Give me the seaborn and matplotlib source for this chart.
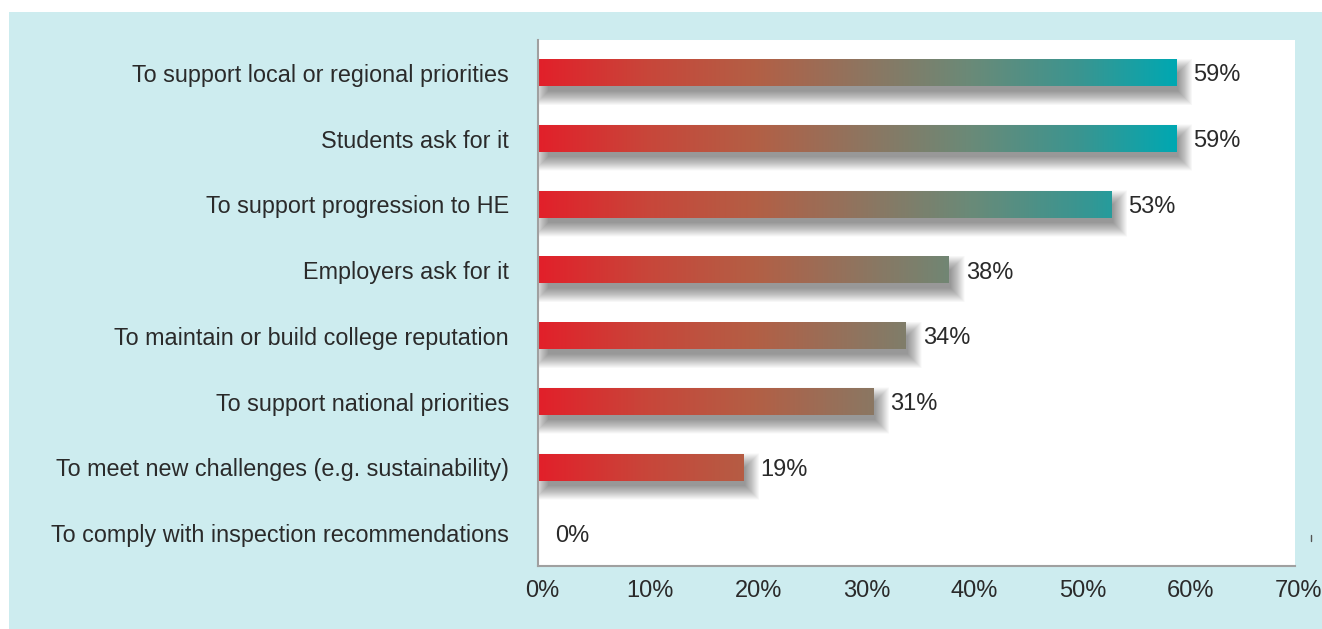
import numpy as np
import pandas as pd
import matplotlib
matplotlib.use("Agg")
import matplotlib.pyplot as plt
import matplotlib.transforms as mtransforms
import seaborn as sns
from matplotlib.colors import LinearSegmentedColormap, Normalize
from matplotlib.patches import Rectangle
from matplotlib.lines import Line2D

categories = [
    "To support local or regional priorities",
    "Students ask for it",
    "To support progression to HE",
    "Employers ask for it",
    "To maintain or build college reputation",
    "To support national priorities",
    "To meet new challenges (e.g. sustainability)",
    "To comply with inspection recommendations",
]
values = [59, 59, 53, 38, 34, 31, 19, 0]
tick_values = [0, 10, 20, 30, 40, 50, 60, 70]
tick_labels = ["0%", "10%", "20%", "30%", "40%", "50%", "60%", "70%"]

df = pd.DataFrame({"category": categories, "value": values})

sns.set_style("white")
plt.rcParams["font.family"] = ["Liberation Sans", "DejaVu Sans"]

W, H = 1322, 629
fig = plt.figure(figsize=(W / 100, H / 100), dpi=100)
fig.patch.set_facecolor("white")
fig.patches.append(Rectangle((9 / W, 0), 1, (H - 12) / H, transform=fig.transFigure,
                             facecolor="#cdecef", edgecolor="none", zorder=-10))

left, right, top, bottom = 538, 1295, 40, 566
ax = fig.add_axes([left / W, 1 - bottom / H, (right - left) / W, (bottom - top) / H])
ax.set_facecolor("white")

sns.barplot(data=df, x="value", y="category", orient="h", width=0.4, ax=ax,
            color="#cccccc", saturation=1)

cmap = LinearSegmentedColormap.from_list("grad", [
    (0.0, "#e2202a"), (10 / 59, "#c8463a"), (20 / 59, "#b35f45"),
    (30 / 59, "#8e7560"), (40 / 59, "#6a8a78"), (50 / 59, "#3b9590"),
    (1.0, "#00a8b2")])
norm = Normalize(0, 59)

xlim = (0, 70)
ylim = (len(categories) - 0.5, -0.5)
px_x = (xlim[1] - xlim[0]) / (right - left)
px_y = (len(categories)) / (bottom - top)

for p in ax.patches:
    x0, y0 = p.get_x(), p.get_y()
    w, h = p.get_width(), p.get_height()
    if w <= 0:
        p.set_visible(False)
        continue
    # soft drop shadow
    dx, dy = 6 * px_x, 9 * px_y
    for s in np.linspace(-8, 20, 29):
        ax.add_patch(Rectangle((x0 + dx - s * px_x * 0.5, y0 + dy - s * px_y * 0.5),
                               w + s * px_x, h + s * px_y,
                               facecolor="black", edgecolor="none", alpha=0.016, zorder=1))
    p.set_facecolor("none")
    p.set_edgecolor("none")
    grad = np.linspace(0, w, 256).reshape(1, -1)
    ax.imshow(grad, cmap=cmap, norm=norm, aspect="auto",
              extent=[x0, x0 + w, y0 + h, y0], zorder=2, interpolation="bilinear")

for i, v in enumerate(values):
    ax.annotate(f"{v}%", (v, i), xytext=(17 * 0.72, 0), textcoords="offset points",
                va="center_baseline", ha="left", fontsize=17, color="#2a2a2a", zorder=5)

ax.set_xlim(*xlim)
ax.set_ylim(*ylim)
ax.set_xticks(tick_values)
ax.set_xticklabels(tick_labels)
ax.set_xlabel("")
ax.set_ylabel("")
ax.tick_params(axis="y", length=0, pad=21, labelsize=16.8, labelcolor="#2a2a2a")
ax.tick_params(axis="x", length=0, pad=10, labelsize=17, labelcolor="#2a2a2a")
shift = mtransforms.ScaledTranslation(4 / 100, 0, fig.dpi_scale_trans)
for lab in ax.get_xticklabels():
    lab.set_transform(lab.get_transform() + shift)
for side in ["top", "right"]:
    ax.spines[side].set_visible(False)
for side in ["left", "bottom"]:
    ax.spines[side].set_color("#a0a0a0")
    ax.spines[side].set_linewidth(1.5)
ax.grid(False)

fig.lines.append(Line2D([1311 / W, 1311 / W], [1 - 535 / H, 1 - 541 / H],
                        transform=fig.transFigure, color="#555555", lw=1))

fig.savefig("out.png", dpi=100)
